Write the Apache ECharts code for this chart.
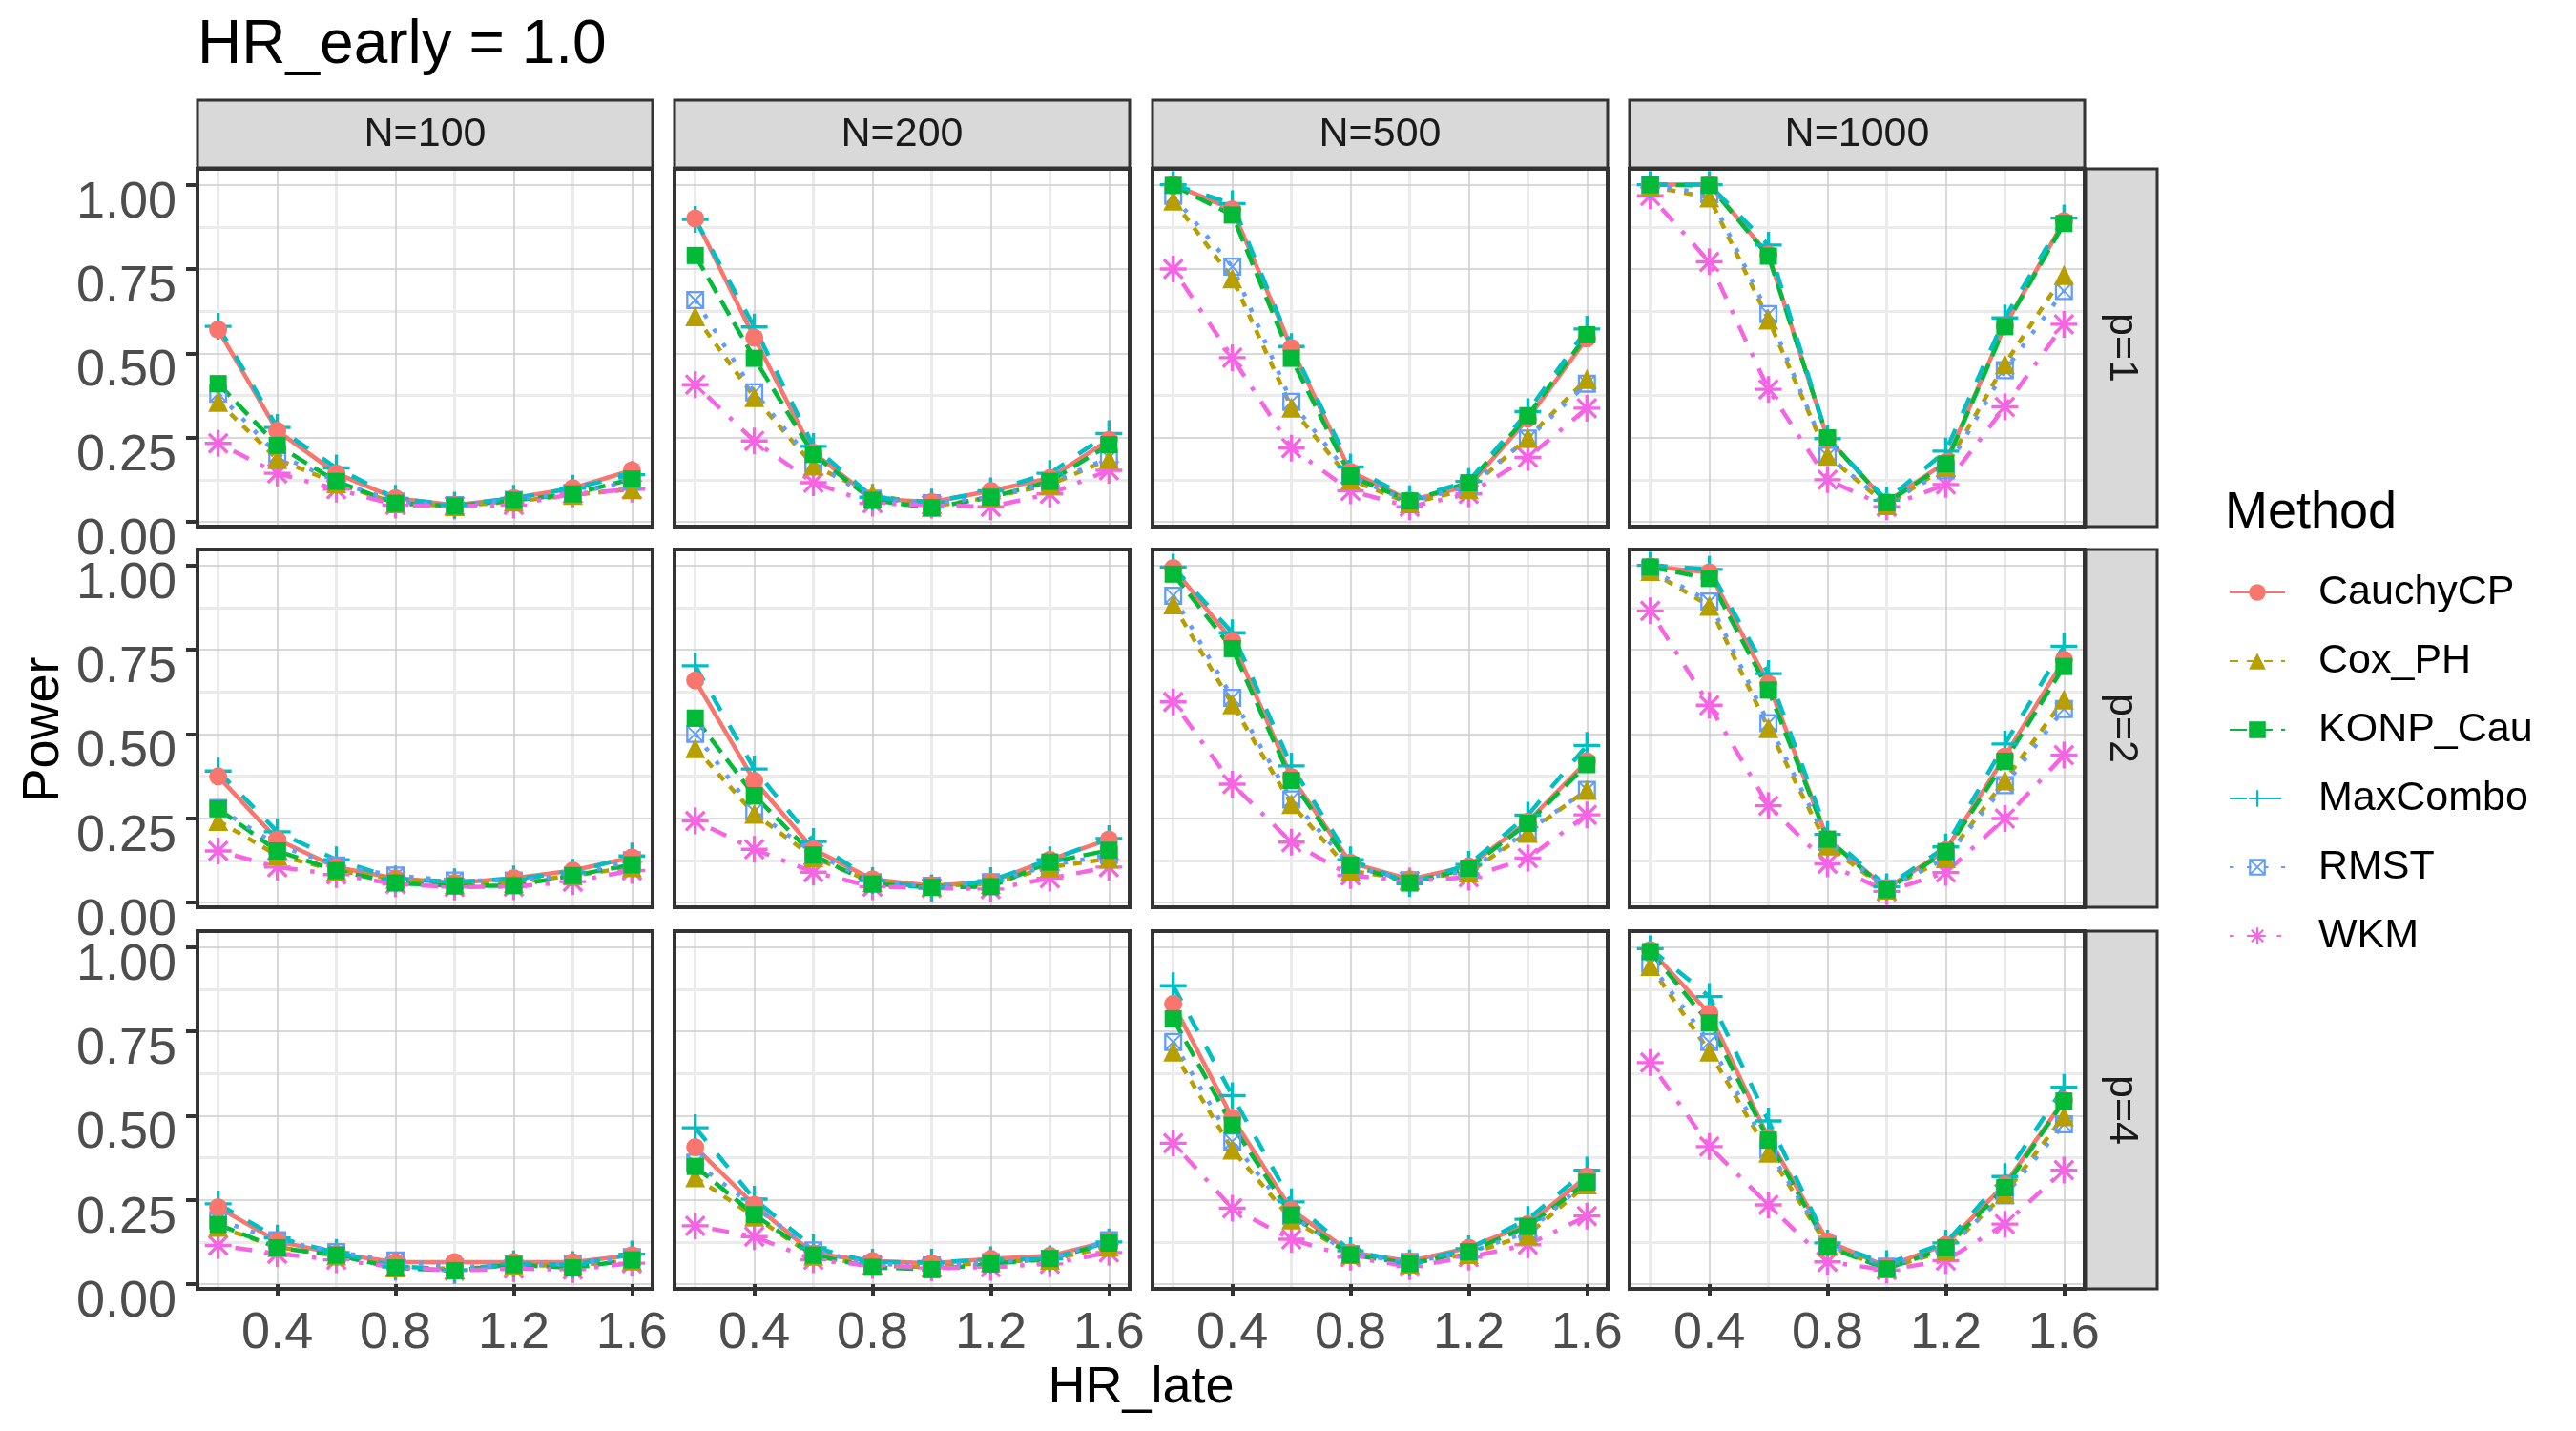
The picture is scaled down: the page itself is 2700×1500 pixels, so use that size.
<!DOCTYPE html>
<html>
<head>
<meta charset="utf-8">
<script src="https://cdn.jsdelivr.net/npm/echarts@6/dist/echarts.min.js"></script>
<style>
  html, body { margin: 0; padding: 0; background: #ffffff; }
  #chart { width: 2700px; height: 1500px; }
</style>
</head>
<body>
<div id="chart"></div>
<script>
// x values shared by every panel
const hrLate = [0.2, 0.4, 0.6, 0.8, 1.0, 1.2, 1.4, 1.6];
const nLabels = ['N=100', 'N=200', 'N=500', 'N=1000'];
const pLabels = ['p=1', 'p=2', 'p=4'];
const methods = ['CauchyCP', 'Cox_PH', 'KONP_Cau', 'MaxCombo', 'RMST', 'WKM'];
const xMajor = [0.4, 0.8, 1.2, 1.6];
const xMinor = [0.2, 0.6, 1.0, 1.4];
const yMajor = [0, 0.25, 0.5, 0.75, 1.0];
const yMinor = [0.125, 0.375, 0.625, 0.875];

// power per panel, rows ordered p=1 (N=100,200,500,1000), p=2 (...), p=4 (...)
const powerCauchyCP = [
  [0.57, 0.27, 0.144, 0.07, 0.05, 0.07, 0.10, 0.153],
  [0.90, 0.546, 0.205, 0.069, 0.059, 0.092, 0.13, 0.243],
  [1.0, 0.927, 0.516, 0.149, 0.064, 0.106, 0.306, 0.544],
  [1.0, 1.0, 0.793, 0.247, 0.059, 0.177, 0.581, 0.892],
  [0.374, 0.187, 0.105, 0.072, 0.058, 0.072, 0.095, 0.134],
  [0.659, 0.361, 0.158, 0.069, 0.05, 0.062, 0.127, 0.187],
  [0.992, 0.776, 0.372, 0.118, 0.069, 0.108, 0.24, 0.419],
  [0.997, 0.979, 0.649, 0.188, 0.042, 0.155, 0.433, 0.72],
  [0.228, 0.127, 0.09, 0.065, 0.065, 0.065, 0.065, 0.086],
  [0.406, 0.235, 0.091, 0.069, 0.062, 0.075, 0.084, 0.127],
  [0.831, 0.493, 0.221, 0.094, 0.068, 0.108, 0.178, 0.319],
  [0.991, 0.803, 0.434, 0.127, 0.052, 0.117, 0.296, 0.545]
];
const powerCoxPH = [
  [0.356, 0.186, 0.115, 0.055, 0.047, 0.06, 0.08, 0.097],
  [0.61, 0.37, 0.167, 0.083, 0.045, 0.073, 0.11, 0.186],
  [0.953, 0.722, 0.339, 0.125, 0.055, 0.097, 0.249, 0.424],
  [0.995, 0.962, 0.6, 0.196, 0.05, 0.163, 0.468, 0.732],
  [0.242, 0.14, 0.095, 0.07, 0.055, 0.058, 0.08, 0.105],
  [0.458, 0.263, 0.134, 0.06, 0.05, 0.055, 0.105, 0.13],
  [0.884, 0.588, 0.292, 0.094, 0.068, 0.089, 0.207, 0.334],
  [0.983, 0.88, 0.517, 0.169, 0.038, 0.132, 0.362, 0.602],
  [0.17, 0.11, 0.085, 0.05, 0.045, 0.055, 0.055, 0.07],
  [0.317, 0.2, 0.084, 0.055, 0.05, 0.065, 0.072, 0.111],
  [0.69, 0.399, 0.192, 0.089, 0.061, 0.089, 0.146, 0.296],
  [0.944, 0.69, 0.39, 0.113, 0.047, 0.099, 0.268, 0.498]
];
const powerKONP = [
  [0.41, 0.227, 0.12, 0.055, 0.047, 0.064, 0.083, 0.127],
  [0.79, 0.485, 0.2, 0.064, 0.042, 0.073, 0.12, 0.229],
  [0.998, 0.91, 0.485, 0.136, 0.062, 0.116, 0.315, 0.555],
  [1.0, 0.998, 0.788, 0.249, 0.057, 0.172, 0.579, 0.885],
  [0.278, 0.153, 0.095, 0.058, 0.049, 0.05, 0.08, 0.112],
  [0.547, 0.317, 0.141, 0.055, 0.045, 0.047, 0.12, 0.155],
  [0.974, 0.753, 0.362, 0.111, 0.058, 0.102, 0.235, 0.409],
  [0.995, 0.961, 0.63, 0.188, 0.038, 0.151, 0.419, 0.70],
  [0.177, 0.108, 0.086, 0.048, 0.04, 0.058, 0.048, 0.072],
  [0.349, 0.206, 0.086, 0.05, 0.043, 0.06, 0.076, 0.122],
  [0.787, 0.471, 0.205, 0.087, 0.061, 0.096, 0.171, 0.302],
  [0.986, 0.775, 0.427, 0.111, 0.045, 0.108, 0.286, 0.543]
];
const powerMaxCombo = [
  [0.58, 0.28, 0.16, 0.07, 0.05, 0.07, 0.10, 0.14],
  [0.897, 0.578, 0.224, 0.073, 0.059, 0.092, 0.144, 0.262],
  [1.0, 0.944, 0.52, 0.163, 0.069, 0.12, 0.327, 0.572],
  [1.0, 1.0, 0.821, 0.247, 0.064, 0.21, 0.605, 0.901],
  [0.39, 0.21, 0.127, 0.07, 0.062, 0.07, 0.09, 0.138],
  [0.702, 0.396, 0.181, 0.065, 0.043, 0.065, 0.127, 0.19],
  [0.995, 0.80, 0.405, 0.127, 0.056, 0.113, 0.259, 0.466],
  [1.0, 0.988, 0.679, 0.202, 0.047, 0.165, 0.47, 0.76],
  [0.238, 0.137, 0.094, 0.053, 0.043, 0.06, 0.058, 0.089],
  [0.464, 0.252, 0.108, 0.065, 0.065, 0.072, 0.075, 0.125],
  [0.885, 0.559, 0.244, 0.099, 0.063, 0.105, 0.192, 0.338],
  [0.995, 0.853, 0.484, 0.122, 0.061, 0.122, 0.319, 0.584]
];
const powerRMST = [
  [0.38, 0.20, 0.12, 0.06, 0.05, 0.065, 0.085, 0.12],
  [0.658, 0.384, 0.174, 0.069, 0.055, 0.073, 0.116, 0.19],
  [0.967, 0.757, 0.356, 0.136, 0.059, 0.106, 0.247, 0.41],
  [1.0, 0.972, 0.616, 0.196, 0.055, 0.153, 0.45, 0.685],
  [0.28, 0.17, 0.11, 0.08, 0.065, 0.065, 0.08, 0.125],
  [0.5, 0.27, 0.148, 0.06, 0.05, 0.06, 0.11, 0.141],
  [0.91, 0.607, 0.306, 0.108, 0.066, 0.094, 0.212, 0.334],
  [0.988, 0.893, 0.532, 0.179, 0.042, 0.132, 0.348, 0.574],
  [0.19, 0.13, 0.095, 0.07, 0.05, 0.058, 0.06, 0.08],
  [0.36, 0.23, 0.1, 0.06, 0.055, 0.065, 0.075, 0.13],
  [0.718, 0.423, 0.202, 0.089, 0.066, 0.094, 0.155, 0.305],
  [0.95, 0.718, 0.399, 0.117, 0.052, 0.103, 0.263, 0.474]
];
const powerWKM = [
  [0.233, 0.144, 0.097, 0.05, 0.047, 0.05, 0.083, 0.097],
  [0.407, 0.24, 0.116, 0.055, 0.05, 0.045, 0.083, 0.153],
  [0.75, 0.487, 0.219, 0.092, 0.045, 0.083, 0.191, 0.337],
  [0.967, 0.771, 0.393, 0.125, 0.045, 0.111, 0.341, 0.586],
  [0.153, 0.105, 0.083, 0.055, 0.046, 0.047, 0.062, 0.095],
  [0.242, 0.158, 0.09, 0.047, 0.043, 0.04, 0.072, 0.105],
  [0.595, 0.351, 0.179, 0.08, 0.064, 0.075, 0.132, 0.26],
  [0.865, 0.585, 0.287, 0.115, 0.033, 0.089, 0.249, 0.437],
  [0.115, 0.09, 0.072, 0.05, 0.04, 0.046, 0.043, 0.062],
  [0.173, 0.141, 0.072, 0.055, 0.048, 0.05, 0.06, 0.094],
  [0.418, 0.225, 0.133, 0.08, 0.052, 0.08, 0.117, 0.202],
  [0.657, 0.408, 0.235, 0.066, 0.042, 0.07, 0.178, 0.338]
];
const powerByMethod = [powerCauchyCP, powerCoxPH, powerKONP, powerMaxCombo, powerRMST, powerWKM];

// look of each method (ggplot default hue palette / linetypes / shapes)
const FONT = '"Liberation Sans", Arial, Helvetica, sans-serif';
const colors = ['#F8766D', '#B79F00', '#00BA38', '#00BFC4', '#619CFF', '#F564E3'];
const dashes = ['solid', [9, 9], [18, 9], [18, 18], [4.5, 13.5], [4.5, 13.5, 18, 13.5]];
const PLUS = 'path://M44,0H56V44H100V56H56V100H44V56H0V44H44Z';
const ASTERISK = 'path://M44,0H56V44H100V56H56V100H44V56H0V44H44Z' +
  'M10.76,19.24L19.24,10.76L89.24,80.76L80.76,89.24Z' +
  'M80.76,10.76L89.24,19.24L19.24,89.24L10.76,80.76Z';
const SQUARE_CROSS = 'path://M0,0H100V100H0Z M12,12V88H88V12Z' +
  'M8.46,15.54L15.54,8.46L91.54,84.46L84.46,91.54Z' +
  'M84.46,8.46L91.54,15.54L15.54,91.54L8.46,84.46Z';
const symbols = ['circle', 'triangle', 'rect', PLUS, SQUARE_CROSS, ASTERISK];
const symbolSizes = [19, 21, 18, 28, 19, 28];
const pointOrder = [5, 3, 4, 0, 1, 2];

// panel layout
const panelLeft = [207, 707, 1208, 1708];
const panelTop = [177, 576, 976];
const panelW = 477;
const panelH = 375;
const xRange = [0.13, 1.67];
const yRange = [-0.014, 1.047];

const grids = [];
const xAxes = [];
const yAxes = [];
const graphics = [];

pLabels.forEach((pl, r) => {
  nLabels.forEach((nl, c) => {
    const g = r * 4 + c;
    grids.push({ left: panelLeft[c], top: panelTop[r], width: panelW, height: panelH, show: false });

    xAxes.push({
      type: 'value', gridIndex: g, position: 'bottom', min: xRange[0], max: xRange[1], z: 1,
      axisLine: { show: false },
      axisTick: { show: r === 2, customValues: xMajor, length: 12, lineStyle: { color: '#333333', width: 4 } },
      axisLabel: { show: r === 2, customValues: xMajor, margin: 20, fontSize: 54, color: '#4D4D4D',
        fontFamily: FONT, formatter: v => v.toFixed(1) },
      splitLine: { show: true, lineStyle: { color: '#CCCCCC', width: 1.5 } }
    });
    xAxes.push({
      type: 'value', gridIndex: g, position: 'top', min: xRange[0], max: xRange[1], z: 0,
      axisLine: { show: false },
      axisTick: { show: false, customValues: xMinor },
      axisLabel: { show: false, customValues: xMinor },
      splitLine: { show: true, lineStyle: { color: '#EBEBEB', width: 3 } }
    });
    // ggplot puts these labels just under their tick (top aligned)
    yAxes.push({
      type: 'value', gridIndex: g, position: 'left', min: yRange[0], max: yRange[1], z: 1,
      axisLine: { show: false },
      axisTick: { show: c === 0, customValues: yMajor, length: 12, lineStyle: { color: '#333333', width: 4 } },
      axisLabel: { show: c === 0, customValues: yMajor, margin: 22, fontSize: 54, color: '#4D4D4D',
        fontFamily: FONT, verticalAlign: 'top', lineHeight: 38, formatter: v => v.toFixed(2) },
      splitLine: { show: true, lineStyle: { color: '#CCCCCC', width: 1.5 } }
    });
    yAxes.push({
      type: 'value', gridIndex: g, position: 'right', min: yRange[0], max: yRange[1], z: 0,
      axisLine: { show: false },
      axisTick: { show: false, customValues: yMinor },
      axisLabel: { show: false, customValues: yMinor },
      splitLine: { show: true, lineStyle: { color: '#EBEBEB', width: 3 } }
    });

    // panel border on top of the data
    graphics.push({
      type: 'rect', z: 100, silent: true,
      shape: { x: panelLeft[c], y: panelTop[r], width: panelW, height: panelH },
      style: { fill: 'none', stroke: '#333333', lineWidth: 4 }
    });
  });
});

// column strips
nLabels.forEach((nl, c) => {
  graphics.push({
    type: 'rect', z: 100, silent: true,
    shape: { x: panelLeft[c], y: 105, width: panelW, height: 71 },
    style: { fill: '#D9D9D9', stroke: '#333333', lineWidth: 3 }
  });
  graphics.push({
    type: 'text', z: 101, silent: true, x: panelLeft[c] + panelW / 2, y: 141,
    style: { text: nl, fontSize: 43, fontFamily: FONT, fill: '#1A1A1A', align: 'center', verticalAlign: 'middle' }
  });
});
// row strips
pLabels.forEach((pl, r) => {
  graphics.push({
    type: 'rect', z: 100, silent: true,
    shape: { x: 2186, y: panelTop[r], width: 75, height: panelH },
    style: { fill: '#D9D9D9', stroke: '#333333', lineWidth: 3 }
  });
  graphics.push({
    type: 'text', z: 101, silent: true, x: 2224, y: panelTop[r] + panelH / 2, rotation: -Math.PI / 2,
    style: { text: pl, fontSize: 43, fontFamily: FONT, fill: '#1A1A1A', align: 'center', verticalAlign: 'middle' }
  });
});

// titles
graphics.push({
  type: 'text', z: 101, silent: true, x: 207, y: 48,
  style: { text: 'HR_early = 1.0', fontSize: 64, fontFamily: FONT, fill: '#000000', align: 'left', verticalAlign: 'middle' }
});
graphics.push({
  type: 'text', z: 101, silent: true, x: 1196, y: 1455,
  style: { text: 'HR_late', fontSize: 54, fontFamily: FONT, fill: '#000000', align: 'center', verticalAlign: 'middle' }
});
graphics.push({
  type: 'text', z: 101, silent: true, x: 46, y: 765, rotation: Math.PI / 2,
  style: { text: 'Power', fontSize: 54, fontFamily: FONT, fill: '#000000', align: 'center', verticalAlign: 'middle' }
});
graphics.push({
  type: 'text', z: 101, silent: true, x: 2332, y: 538,
  style: { text: 'Method', fontSize: 54, fontFamily: FONT, fill: '#000000', align: 'left', verticalAlign: 'middle' }
});

const series = [];
// lines first (also give the legend its icons)
methods.forEach((name, m) => {
  powerByMethod[m].forEach((vals, g) => {
    series.push({
      type: 'line', name, xAxisIndex: g * 2, yAxisIndex: g * 2,
      data: hrLate.map((x, i) => [x, vals[i]]),
      showSymbol: false, symbol: symbols[m], symbolSize: symbolSizes[m],
      itemStyle: { color: colors[m] },
      lineStyle: { color: colors[m], width: 4.5, type: dashes[m], cap: 'butt' },
      z: 2, silent: true, animation: false
    });
  });
});
// points drawn above all lines
pointOrder.forEach(m => {
  powerByMethod[m].forEach((vals, g) => {
    series.push({
      type: 'scatter', name: methods[m], xAxisIndex: g * 2, yAxisIndex: g * 2,
      data: hrLate.map((x, i) => [x, vals[i]]),
      symbol: symbols[m], symbolSize: symbolSizes[m],
      itemStyle: { color: colors[m], opacity: 1 },
      z: 3, silent: true, animation: false
    });
  });
});

const chart = echarts.init(document.getElementById('chart'), null, { renderer: 'canvas' });
chart.setOption({
  backgroundColor: '#ffffff',
  animation: false,
  grid: grids,
  xAxis: xAxes,
  yAxis: yAxes,
  legend: {
    data: methods, orient: 'vertical', left: 2336, top: 596, padding: 0,
    itemWidth: 58, itemHeight: 22, itemGap: 22, selectedMode: false,
    textStyle: { fontSize: 43, fontFamily: FONT, color: '#000000', lineHeight: 50, padding: [0, 0, 0, 30] }
  },
  graphic: graphics,
  series
});
</script>
</body>
</html>
